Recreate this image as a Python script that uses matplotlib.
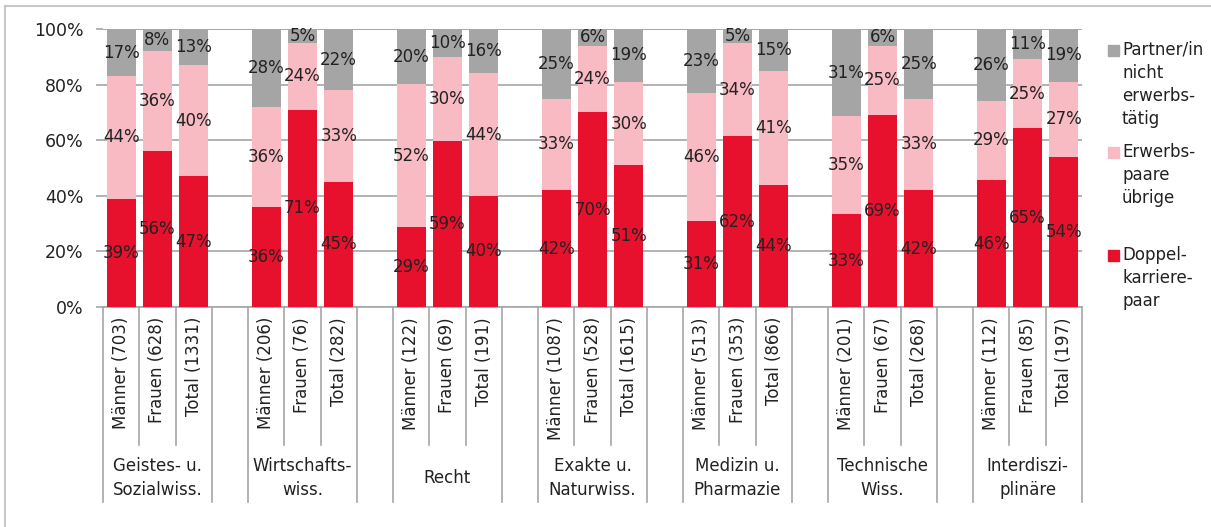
import numpy as np
import matplotlib
matplotlib.use('Agg')
import matplotlib.pyplot as plt
from matplotlib.patches import Rectangle
from matplotlib.lines import Line2D

groups = ['Geistes- u.\nSozialwiss.', 'Wirtschafts-\nwiss.', 'Recht', 'Exakte u.\nNaturwiss.',
          'Medizin u.\nPharmazie', 'Technische\nWiss.', 'Interdiszi-\nplinäre']
bar_labels = [
    ['Männer (703)', 'Frauen (628)', 'Total (1331)'],
    ['Männer (206)', 'Frauen (76)', 'Total (282)'],
    ['Männer (122)', 'Frauen (69)', 'Total (191)'],
    ['Männer (1087)', 'Frauen (528)', 'Total (1615)'],
    ['Männer (513)', 'Frauen (353)', 'Total (866)'],
    ['Männer (201)', 'Frauen (67)', 'Total (268)'],
    ['Männer (112)', 'Frauen (85)', 'Total (197)'],
]
doppel = [[39, 56, 47], [36, 71, 45], [29, 59, 40], [42, 70, 51], [31, 62, 44], [33, 69, 42], [46, 65, 54]]
uebrige = [[44, 36, 40], [36, 24, 33], [52, 30, 44], [33, 24, 30], [46, 34, 41], [35, 25, 33], [29, 25, 27]]
nicht = [[17, 8, 13], [28, 5, 22], [20, 10, 16], [25, 6, 19], [23, 5, 15], [31, 6, 25], [26, 11, 19]]

series_names = ['Doppel-\nkarriere-\npaar', 'Erwerbs-\npaare\nübrige', 'Partner/in\nnicht\nerwerbs-\ntätig']
colors = ['#E8112D', '#F8BAC3', '#A5A5A5']
grid_c = '#A6A6A6'

W, H = 1211, 527
fig = plt.figure(figsize=(W / 100, H / 100), dpi=100)
ax = fig.add_axes([103 / W, 220 / H, 979 / W, 278 / H])

x = np.array([g * 4 + j for g in range(len(groups)) for j in range(3)])
vals = np.array([np.ravel(doppel), np.ravel(uebrige), np.ravel(nicht)], dtype=float)
# scale to 100% like the original (rounded values do not always sum to 100)
norm = vals / vals.sum(axis=0) * 100

bottom = np.zeros(len(x))
for k in range(3):
    bars = ax.bar(x, norm[k], 0.8, bottom=bottom, color=colors[k], zorder=3)
    ax.bar_label(bars, labels=['%d%%' % v for v in vals[k]], label_type='center',
                 fontsize=12, color='#222222', zorder=4)
    bottom += norm[k]

ax.set_xlim(-0.5, 26.5)
ax.set_ylim(0, 100)
ax.set_yticks(np.arange(0, 101, 20))
ax.set_yticklabels(['%d%%' % t for t in range(0, 101, 20)], fontsize=12.5, color='#222222')
ax.tick_params(axis='y', length=5, color=grid_c, width=1.2, pad=9)
ax.set_xticks([])
ax.grid(axis='y', color=grid_c, lw=1.2, zorder=0)
for s in ['left', 'right', 'top']:
    ax.spines[s].set_visible(False)
ax.spines['bottom'].set_color(grid_c)
ax.spines['bottom'].set_linewidth(1.2)
ax.axhline(100, color=grid_c, lw=1.2, zorder=0)

# category labels and separators below the axis
trans = ax.get_xaxis_transform()
for g in range(len(groups)):
    for j in range(3):
        ax.text(g * 4 + j, -0.036, bar_labels[g][j], rotation=90, ha='center', va='top',
                fontsize=12, color='#222222', transform=trans)
    ax.text(g * 4 + 1, -0.615, groups[g], ha='center', va='center', fontsize=12,
            linespacing=1.4, color='#222222', transform=trans)
    for b in [g * 4 - 0.5, g * 4 + 2.5]:
        ax.add_line(Line2D([b, b], [0, -0.70], color=grid_c, lw=1.2, transform=trans, clip_on=False))
    for b in [g * 4 + 0.5, g * 4 + 1.5]:
        ax.add_line(Line2D([b, b], [0, -0.495], color=grid_c, lw=1.2, transform=trans, clip_on=False))

# legend
leg_y = [45, 147, 250]
for k, yy in zip([2, 1, 0], leg_y):
    fig.patches.append(Rectangle((1108 / W, 1 - (yy + 11) / H), 11 / W, 11 / H,
                                 transform=fig.transFigure, color=colors[k]))
    fig.text(1122 / W, 1 - (yy - 4) / H, series_names[k], ha='left', va='top',
             fontsize=12, linespacing=1.35, color='#222222')

# outer frame
fig.add_artist(Line2D([5 / W, 5 / W], [0, 1 - 6 / H], color='#C8C8C8', lw=1.5))
fig.add_artist(Line2D([5 / W, 1], [1 - 6 / H, 1 - 6 / H], color='#C8C8C8', lw=1.5))

fig.savefig('out.png', dpi=100)
